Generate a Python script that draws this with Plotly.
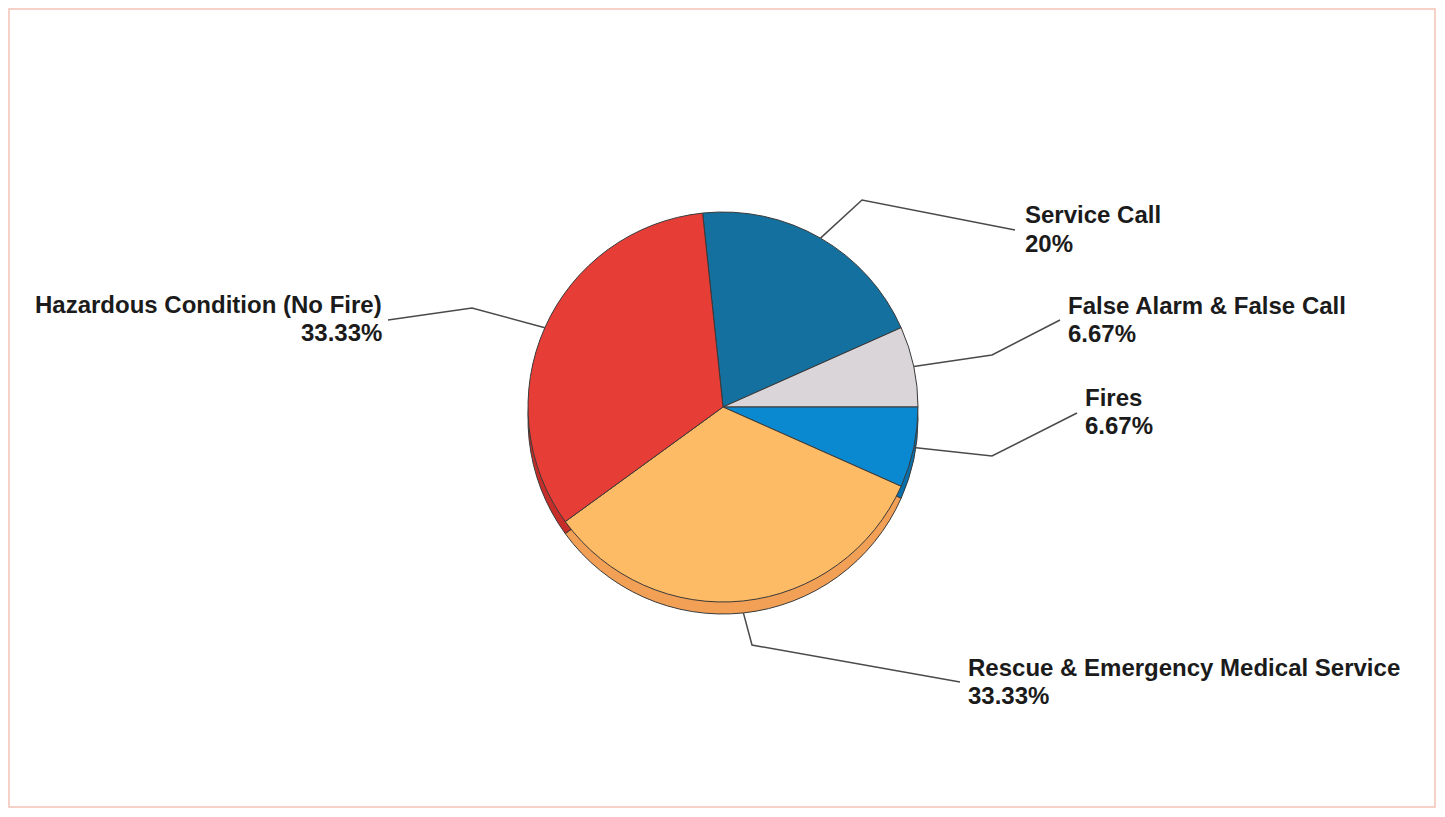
import numpy as np
import plotly.graph_objects as go

# ---- data ----
categories = ["Service Call", "False Alarm & False Call", "Fires",
              "Rescue & Emergency Medical Service", "Hazardous Condition (No Fire)"]
counts = [3, 1, 1, 5, 5]
pct_labels = ["20%", "6.67%", "6.67%", "33.33%", "33.33%"]
colors = ["#13709f", "#d9d5d9", "#0a88d0", "#fdbb66", "#e63d36"]
rim_colors = ["#0e5a80", "#b9b5b9", "#0870ad", "#f2a055", "#c62d28"]

# ---- layout constants (screen pixels; page body has an 8px margin) ----
OFF = 8
W, H = 1445 - 2 * OFF, 817 - 2 * OFF
CX, CY, R = 723, 407, 195
DEPTH = 12
ROT = -6

def px2paper(x, y):
    return (x - OFF) / W, 1 - (y - OFF) / H

fig = go.Figure()
# side (depth) of the pie, drawn slightly lower, behind the face
for dy, cols in ((DEPTH, rim_colors), (0, colors)):
    x0, y0 = px2paper(CX - R, CY + dy + R)
    x1, y1 = px2paper(CX + R, CY + dy - R)
    fig.add_trace(go.Pie(
        labels=categories, values=counts, sort=False, direction="clockwise",
        rotation=ROT, marker=dict(colors=cols, line=dict(color="#3a3a3a", width=1)),
        textinfo="none", hoverinfo="label+percent", showlegend=False,
        domain=dict(x=[x0, x1], y=[y0, y1]),
    ))

# leader-line elbows / ends and label anchors (layout positions, screen pixels)
elbows = [(862, 200), (992, 355), (992, 456), (752, 645), (472, 308)]
ends = [(1015, 230), (1060, 320), (1077, 413), (960, 682), (388, 320)]
label_pos = [(1023, 215, "left"), (1066, 305, "left"), (1083, 397, "left"),
             (966, 667, "left"), (384, 304, "right")]
LINE_GAP = 28

total = sum(counts)
cum = np.cumsum([0] + counts)
font = dict(family="Liberation Sans, Arial", size=24, color="#1b1b1b")
for i, name in enumerate(categories):
    mid = np.deg2rad(ROT + 360 * (cum[i] + counts[i] / 2) / total)
    rr = R + (DEPTH if np.cos(mid) < -0.9 else 0)
    sx, sy = CX + R * np.sin(mid), CY - rr * np.cos(mid)
    pts = [(sx, sy), elbows[i], ends[i]]
    path = "M " + " L ".join(f"{px2paper(*p)[0]:.5f},{px2paper(*p)[1]:.5f}" for p in pts)
    fig.add_shape(type="path", path=path, xref="paper", yref="paper",
                  line=dict(color="#4a4a4a", width=1.5))
    lx, ly, al = label_pos[i]
    for j, txt in enumerate((name, pct_labels[i])):
        ax, ay = px2paper(lx, ly + j * LINE_GAP)
        fig.add_annotation(x=ax, y=ay, xref="paper", yref="paper",
                           text=f"<b>{txt}</b>", showarrow=False,
                           xanchor=al, yanchor="middle", align=al, font=font)

# outer frame
fx0, fy0 = px2paper(9, 807)
fx1, fy1 = px2paper(1435, 9)
fig.add_shape(type="rect", xref="paper", yref="paper", x0=fx0, y0=fy0, x1=fx1, y1=fy1,
              line=dict(color="#f2c4b6", width=1.5))

fig.update_layout(width=W, height=H, margin=dict(l=0, r=0, t=0, b=0),
                  paper_bgcolor="white", plot_bgcolor="white")
fig.write_html("out.html")
